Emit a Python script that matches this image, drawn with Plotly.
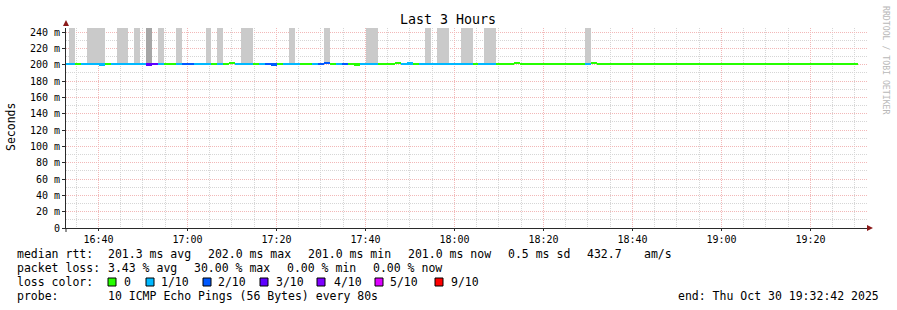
import plotly.graph_objects as go
import pandas as pd

# ---------------- data ----------------
STEP_START = "2025-10-30 16:32:03"   # first 80 s step (partially clipped)
STEP_SECONDS = 80
X_START = "2025-10-30 16:32:42"
X_END = "2025-10-30 19:32:42"

# loss per step, in tenths (10 pings per step)
loss = [1, 1, 0, 1, 1, 1, 1, 0, 1, 1, 1, 1, 1, 1, 3, 3, 1, 0, 0, 1,
        2, 2, 1, 1, 1, 0, 1, 0, 0, 1, 1, 1, 0, 1, 2, 2, 0, 1, 1, 1,
        0, 0, 1, 2, 2, 0, 1, 2, 0, 0, 1, 1, 1, 0, 0, 0, 0, 1, 1, 0,
        1, 1, 1, 1, 1, 1, 1, 1, 1, 0, 1, 1, 1, 0, 0, 0, 0, 0, 0, 0,
        0, 0, 0, 0, 0, 0, 0, 0, 1, 0, 0, 0, 0, 0, 0, 0, 0, 0, 0, 0,
        0, 0, 0, 0, 0, 0, 0, 0, 0, 0, 0, 0, 0, 0, 0, 0, 0, 0, 0, 0,
        0, 0, 0, 0, 0, 0, 0, 0, 0, 0, 0, 0, 0, 0]

# median rtt per step (ms)
median_ms = [201.0, 201.0, 201.0, 201.0, 201.0, 201.0, 200.5, 201.0, 201.0, 201.0,
             201.0, 201.0, 201.0, 201.0, 200.5, 201.0, 201.0, 201.0, 201.0, 201.0,
             201.0, 201.0, 201.0, 201.0, 201.0, 201.0, 201.0, 201.0, 202.0, 201.0,
             201.0, 201.0, 201.0, 201.0, 201.0, 200.3, 201.0, 201.0, 201.0, 201.0,
             201.0, 201.0, 201.0, 201.0, 202.0, 201.0, 201.0, 201.0, 201.0, 200.3,
             201.0, 201.0, 201.0, 201.0, 201.0, 201.0, 202.0, 201.0, 201.6, 201.0,
             201.0, 201.0, 201.0, 201.0, 201.0, 201.0, 201.0, 201.0, 201.0, 201.0,
             201.0, 201.0, 201.0, 201.0, 201.0, 201.0, 202.0, 201.0, 201.0, 201.0,
             201.0, 201.0, 201.0, 201.0, 201.0, 201.0, 201.0, 201.0, 201.0, 202.0,
             201.0, 201.0, 201.0, 201.0, 201.0, 201.0, 201.0, 201.0, 201.0, 201.0,
             201.0, 201.0, 201.0, 201.0, 201.0, 201.0, 201.0, 201.0, 201.0, 201.0,
             201.0, 201.0, 201.0, 201.0, 201.0, 201.0, 201.0, 201.0, 201.0, 201.0,
             201.0, 201.0, 201.0, 201.0, 201.0, 201.0, 201.0, 201.0, 201.0, 201.0,
             201.0, 201.0, 201.0, 201.0]

# smoke (ping spread) per step: 0 none, 1 light, 2 dark; upper end beyond chart top
smoke = [0, 1, 0, 0, 1, 1, 1, 0, 0, 1, 1, 0, 1, 0, 2, 0, 1, 0, 0, 1,
         0, 0, 0, 0, 1, 0, 1, 0, 0, 0, 1, 1, 0, 0, 0, 0, 0, 0, 1, 0,
         0, 0, 0, 0, 1, 0, 0, 0, 0, 0, 0, 1, 1, 0, 0, 0, 0, 0, 0, 0,
         0, 1, 0, 1, 1, 0, 0, 1, 1, 0, 0, 1, 1, 0, 0, 0, 0, 0, 0, 0,
         0, 0, 0, 0, 0, 0, 0, 0, 1, 0, 0, 0, 0, 0, 0, 0, 0, 0, 0, 0,
         0, 0, 0, 0, 0, 0, 0, 0, 0, 0, 0, 0, 0, 0, 0, 0, 0, 0, 0, 0,
         0, 0, 0, 0, 0, 0, 0, 0, 0, 0, 0, 0, 0, 0]
SMOKE_TOP = 300.0

loss_colors = {0: "#26ff00", 1: "#00b8ff", 2: "#0059ff", 3: "#5e00ff",
               4: "#7e00ff", 5: "#dd00ff", 9: "#ff0000"}
legend_loss = [0, 1, 2, 3, 4, 5, 9]
legend_loss_labels = ["0", "1/10", "2/10", "3/10", "4/10", "5/10", "9/10"]
smoke_colors = {1: "#cacaca", 2: "#a6a6a6"}

y_ticks = [0, 20, 40, 60, 80, 100, 120, 140, 160, 180, 200, 220, 240]
y_ticktext = ["0", "20 m", "40 m", "60 m", "80 m", "100 m", "120 m", "140 m",
              "160 m", "180 m", "200 m", "220 m", "240 m"]

stats_rtt = ["median rtt:", "201.3 ms avg", "202.0 ms max", "201.0 ms min",
             "201.0 ms now", "0.5 ms sd", "432.7", "am/s"]
stats_loss = ["packet loss:", "3.43 % avg", "30.00 % max", "0.00 % min", "0.00 % now"]
probe_text = ["probe:", "10 ICMP Echo Pings (56 Bytes) every 80s"]
end_text = "end: Thu Oct 30 19:32:42 2025"

# ---------------- build ----------------
MONO = "DejaVu Sans Mono"
W, H = 897, 310
PL, PT, PW, PH = 66, 28, 801, 200


def px(x):
    return (x - PL) / PW


def py(y):
    return (PT + PH - y) / PH


n = len(loss)
starts = pd.date_range(STEP_START, periods=n, freq=f"{STEP_SECONDS}s")
centers = starts + pd.Timedelta(seconds=STEP_SECONDS / 2)
width_ms = STEP_SECONDS * 1000

fig = go.Figure()

sm_idx = [i for i in range(n) if smoke[i] > 0]
fig.add_trace(go.Bar(
    x=[centers[i] for i in sm_idx],
    base=[median_ms[i] for i in sm_idx],
    y=[SMOKE_TOP - median_ms[i] for i in sm_idx],
    width=[width_ms] * len(sm_idx),
    marker=dict(color=[smoke_colors[smoke[i]] for i in sm_idx], line=dict(width=0)),
    showlegend=False, hoverinfo="skip",
))

LINE_HALF = 1.7
fig.add_trace(go.Bar(
    x=list(centers),
    base=[m - LINE_HALF for m in median_ms],
    y=[2 * LINE_HALF] * n,
    width=[width_ms] * n,
    marker=dict(color=[loss_colors[l] for l in loss], line=dict(width=0)),
    showlegend=False, hoverinfo="skip",
))

GRID_MAJ = "#f2b8b8"
GRID_MIN = "#d6d6d6"
AXIS_COL = "#2a2a2a"

fig.update_layout(
    width=W, height=H,
    margin=dict(l=PL, r=W - PL - PW, t=PT, b=H - PT - PH),
    paper_bgcolor="white", plot_bgcolor="white",
    barmode="overlay", bargap=0,
    font=dict(family=MONO, color="black"),
    xaxis=dict(
        type="date", range=[X_START, X_END],
        tickformat="%H:%M", dtick=20 * 60 * 1000, tick0="2025-10-30 16:40:00",
        showgrid=True, gridcolor=GRID_MAJ, griddash="1px,1px", gridwidth=1,
        minor=dict(dtick=5 * 60 * 1000, tick0="2025-10-30 16:40:00", showgrid=True,
                   gridcolor=GRID_MIN, griddash="1px,1px", gridwidth=1),
        showline=True, linecolor=AXIS_COL, linewidth=1,
        ticks="outside", ticklen=2, tickcolor=AXIS_COL,
        tickfont=dict(family=MONO, size=10, color="black"),
        zeroline=False, fixedrange=True,
    ),
    yaxis=dict(
        range=[0, 245], tickmode="array", tickvals=y_ticks, ticktext=y_ticktext,
        showgrid=True, gridcolor=GRID_MAJ, griddash="1px,1px", gridwidth=1,
        minor=dict(tickmode="linear", dtick=10, tick0=0, showgrid=True,
                   gridcolor=GRID_MIN, griddash="1px,1px", gridwidth=1),
        showline=True, linecolor=AXIS_COL, linewidth=1,
        ticks="outside", ticklen=3, tickcolor=AXIS_COL,
        tickfont=dict(family=MONO, size=10, color="black"),
        zeroline=False, fixedrange=True,
    ),
)

ARROW = "#8b1a1a"
shapes = [
    dict(type="path", xref="paper", yref="paper",
         path=f"M {px(867)} {py(225)} L {px(873)} {py(228)} L {px(867)} {py(231)} Z",
         fillcolor=ARROW, line=dict(width=0)),
    dict(type="path", xref="paper", yref="paper",
         path=f"M {px(63)} {py(26)} L {px(66)} {py(20)} L {px(69)} {py(26)} Z",
         fillcolor=ARROW, line=dict(width=0)),
    dict(type="line", xref="paper", yref="paper",
         x0=px(66), x1=px(66), y0=py(228), y1=py(232),
         line=dict(color=AXIS_COL, width=1)),
]

annotations = []


def txt(s, x, y, size=11.5, anchor="left", color="black", angle=0):
    annotations.append(dict(text=s, x=px(x), y=py(y), xref="paper", yref="paper",
                            xanchor=anchor, yanchor="middle", showarrow=False,
                            textangle=angle, borderpad=0,
                            font=dict(family=MONO, size=size, color=color)))


txt("Last 3 Hours", 448, 19, size=13.3, anchor="center")
txt("Seconds", 11, 127, size=11.5, anchor="center", angle=-90)
txt("RRDTOOL / TOBI OETIKER", 886, 60, size=8.2, anchor="center", color="#b8b8b8", angle=90)

row1_x = [16, 107, 207, 307, 407, 507, 586, 643]
for s, x in zip(stats_rtt, row1_x):
    txt(s, x, 254)
row2_x = [16, 107, 193, 286, 372]
for s, x in zip(stats_loss, row2_x):
    txt(s, x, 268)
txt("loss color:", 16, 282)
box_x = [108, 146, 203, 260, 317, 375, 435]
lab_x = [123, 160, 217, 275, 333, 389, 450]
for l, lab, bx, lx in zip(legend_loss, legend_loss_labels, box_x, lab_x):
    shapes.append(dict(type="rect", xref="paper", yref="paper",
                       x0=px(bx), x1=px(bx + 8), y0=py(286), y1=py(278),
                       fillcolor=loss_colors[l], line=dict(color="black", width=1)))
    txt(lab, lx, 282)
for s, x in zip(probe_text, [16, 107]):
    txt(s, x, 296)
txt(end_text, 880, 296, anchor="right")

fig.update_layout(shapes=shapes, annotations=annotations)
fig.write_html("out.html")
